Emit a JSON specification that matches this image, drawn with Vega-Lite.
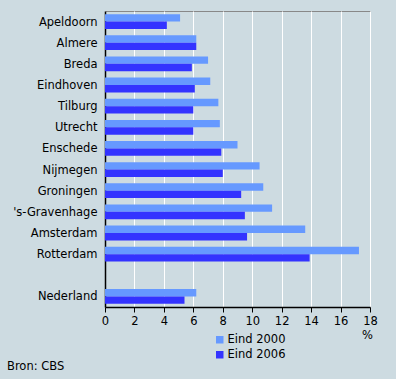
{
  "$schema": "https://vega.github.io/schema/vega-lite/v6.json",
  "autosize": {"type": "none"},
  "width": 265,
  "height": 296,
  "padding": {"left": 105, "top": 11, "right": 26, "bottom": 72},
  "background": "#cddbe1",
  "config": {
    "font": "DejaVu Sans",
    "view": {"stroke": "#888888", "strokeWidth": 1, "fill": "#cddbe1"},
    "axis": {"labelFont": "DejaVu Sans", "labelFontSize": 11.5, "labelColor": "#000000"},
    "legend": {"labelFont": "DejaVu Sans", "labelFontSize": 11.5, "labelColor": "#000000"}
  },
  "title": {
    "text": "Bron: CBS",
    "orient": "bottom",
    "anchor": "start",
    "frame": "group",
    "dx": -98,
    "offset": 0,
    "fontSize": 11.5,
    "fontWeight": "normal",
    "font": "DejaVu Sans",
    "color": "#000000"
  },
  "data": {
    "values": [
      {"stad": "Apeldoorn", "jaar": "Eind 2000", "pct": 5.1},
      {"stad": "Apeldoorn", "jaar": "Eind 2006", "pct": 4.2},
      {"stad": "Almere", "jaar": "Eind 2000", "pct": 6.2},
      {"stad": "Almere", "jaar": "Eind 2006", "pct": 6.2},
      {"stad": "Breda", "jaar": "Eind 2000", "pct": 7.0},
      {"stad": "Breda", "jaar": "Eind 2006", "pct": 5.9},
      {"stad": "Eindhoven", "jaar": "Eind 2000", "pct": 7.15},
      {"stad": "Eindhoven", "jaar": "Eind 2006", "pct": 6.1},
      {"stad": "Tilburg", "jaar": "Eind 2000", "pct": 7.7},
      {"stad": "Tilburg", "jaar": "Eind 2006", "pct": 6.0},
      {"stad": "Utrecht", "jaar": "Eind 2000", "pct": 7.8},
      {"stad": "Utrecht", "jaar": "Eind 2006", "pct": 6.0},
      {"stad": "Enschede", "jaar": "Eind 2000", "pct": 9.0},
      {"stad": "Enschede", "jaar": "Eind 2006", "pct": 7.9},
      {"stad": "Nijmegen", "jaar": "Eind 2000", "pct": 10.5},
      {"stad": "Nijmegen", "jaar": "Eind 2006", "pct": 8.0},
      {"stad": "Groningen", "jaar": "Eind 2000", "pct": 10.75},
      {"stad": "Groningen", "jaar": "Eind 2006", "pct": 9.25},
      {"stad": "'s-Gravenhage", "jaar": "Eind 2000", "pct": 11.35},
      {"stad": "'s-Gravenhage", "jaar": "Eind 2006", "pct": 9.5},
      {"stad": "Amsterdam", "jaar": "Eind 2000", "pct": 13.6},
      {"stad": "Amsterdam", "jaar": "Eind 2006", "pct": 9.65},
      {"stad": "Rotterdam", "jaar": "Eind 2000", "pct": 17.25},
      {"stad": "Rotterdam", "jaar": "Eind 2006", "pct": 13.9},
      {"stad": "Nederland", "jaar": "Eind 2000", "pct": 6.2},
      {"stad": "Nederland", "jaar": "Eind 2006", "pct": 5.4}
    ]
  },
  "mark": {"type": "bar"},
  "encoding": {
    "y": {
      "field": "stad",
      "type": "nominal",
      "scale": {
        "domain": ["Apeldoorn", "Almere", "Breda", "Eindhoven", "Tilburg", "Utrecht", "Enschede", "Nijmegen", "Groningen", "'s-Gravenhage", "Amsterdam", "Rotterdam", " ", "Nederland"],
        "paddingInner": 0.3,
        "paddingOuter": 0.15
      },
      "axis": {
        "title": null,
        "ticks": false,
        "domainColor": "#000000",
        "domainWidth": 1.5,
        "labelPadding": 8,
        "labelOffset": 1,
        "grid": false
      }
    },
    "yOffset": {
      "field": "jaar",
      "type": "nominal",
      "scale": {"domain": ["Eind 2000", "Eind 2006"], "paddingInner": 0, "paddingOuter": 0}
    },
    "x": {
      "field": "pct",
      "type": "quantitative",
      "scale": {"domain": [0, 18], "nice": false},
      "axis": {
        "values": [0, 2, 4, 6, 8, 10, 12, 14, 16, 18],
        "title": "%",
        "titleFontWeight": "normal",
        "titleFontSize": 11.5,
        "titleFont": "DejaVu Sans",
        "titleColor": "#000000",
        "titleX": 262,
        "titleY": 22,
        "titleAlign": "center",
        "titleAnchor": null,
        "grid": true,
        "gridColor": "#ffffff",
        "gridWidth": 1,
        "gridOpacity": 1,
        "domainColor": "#000000",
        "domainWidth": 1.5,
        "tickColor": "#000000",
        "tickSize": 5,
        "labelPadding": 3,
        "labelFlush": false
      }
    },
    "color": {
      "field": "jaar",
      "type": "nominal",
      "scale": {"domain": ["Eind 2000", "Eind 2006"], "range": ["#6699ff", "#3333ff"]},
      "legend": {
        "title": null,
        "orient": "none",
        "legendX": 109,
        "legendY": 323,
        "symbolType": "square",
        "symbolSize": 56,
        "symbolStrokeWidth": 0,
        "rowPadding": 2,
        "labelOffset": 2
      }
    }
  }
}
